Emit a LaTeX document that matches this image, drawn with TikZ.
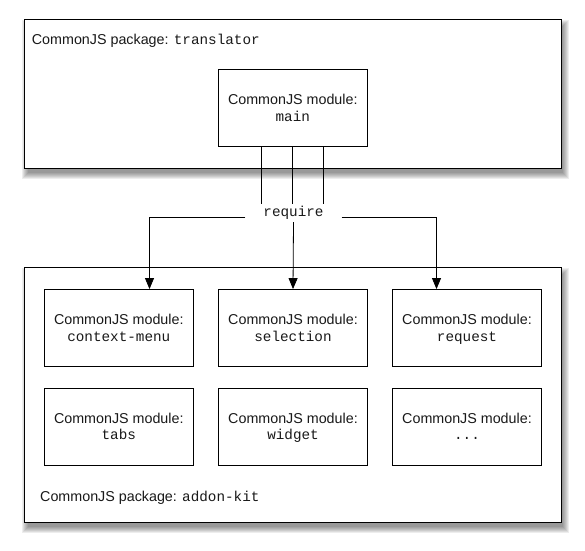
\documentclass[tikz,border=0pt]{standalone}
\usepackage{fontspec}
\setmainfont{Liberation Sans}
\setmonofont{Liberation Mono}
\usetikzlibrary{arrows.meta,backgrounds}
\newcommand\monoline[1]{\smash{\texttt{#1}}}
\begin{document}
\begin{tikzpicture}[x=1pt,y=-1pt,
  every node/.style={font=\fontsize{14.3}{16}\selectfont, text=black!90},
  pkg/.style={draw=black, line width=1.1pt, fill=white, inner sep=0pt},
  mod/.style={draw=black, line width=0.9pt, fill=white, minimum width=149pt,
    minimum height=77pt, align=center, inner sep=0pt,
    font=\fontsize{14.3}{16.6}\selectfont,
    execute at begin node=\rule{0pt}{11.2pt}, execute at end node=\rule[-0.7pt]{0pt}{0.7pt}},
  lbl/.style={anchor=west, inner sep=0pt},
  link/.style={draw=black, line width=0.8pt},
  tip/.style={-{Triangle[length=11pt,width=9pt]}},
  shadowlayer/.style={fill=black, opacity=0.07, draw=none}
]
\useasboundingbox (0,0) rectangle (585,550);

% packages
\node[pkg, minimum width=537pt, minimum height=149pt] (translator) at (292.7,93.8) {};
\node[pkg, minimum width=537.4pt, minimum height=254.7pt] (addonkit) at (293,394.7) {};
\begin{scope}[on background layer]
  \foreach \b in {translator,addonkit}
    \foreach \r in {-1,0,1,2,3,4,5}
      \fill[shadowlayer] ([shift={(3-\r,6-\r)}]\b.north west) rectangle ([shift={(2+\r,5+\r)}]\b.south east);
\end{scope}
\node[lbl] (tlabel) at (31.7,40.7) {CommonJS package: \texttt{translator}};
\node[lbl] (alabel) at (40,497.7) {CommonJS package: \texttt{addon-kit}};

% modules
\node[mod] (main) at (292.8,108) {CommonJS module:\\\monoline{main}};
\node[mod] (cm) at (118.8,328) {CommonJS module:\\\monoline{context-menu}};
\node[mod] (sel) at (293,328) {CommonJS module:\\\monoline{selection}};
\node[mod] (reqm) at (467,328) {CommonJS module:\\\monoline{request}};
\node[mod] (tabs) at (118.8,426.8) {CommonJS module:\\\monoline{tabs}};
\node[mod] (widget) at (293,426.8) {CommonJS module:\\\monoline{widget}};
\node[mod] (more) at (467,426.8) {CommonJS module:\\\monoline{...}};

% require hub
\node[fill=white, inner sep=0pt, minimum width=96pt, minimum height=18pt] (req) at (293.5,213) {\texttt{require}};

% connectors
\foreach \dx in {-31,0,31}
  \draw[link] ([xshift=\dx pt]main.south) -- ([xshift=\dx pt]main.south |- req.north);

\coordinate (lt) at (149.5,217.3);
\coordinate (rt) at (436.5,217.3);
\draw[link, tip] (req.west |- lt) -- (lt) -- (cm.north -| lt);
\draw[link, tip] (req.east |- rt) -- (rt) -- (reqm.north -| rt);
\draw[link, tip] (req.south) -- (sel.north);
\end{tikzpicture}
\end{document}
